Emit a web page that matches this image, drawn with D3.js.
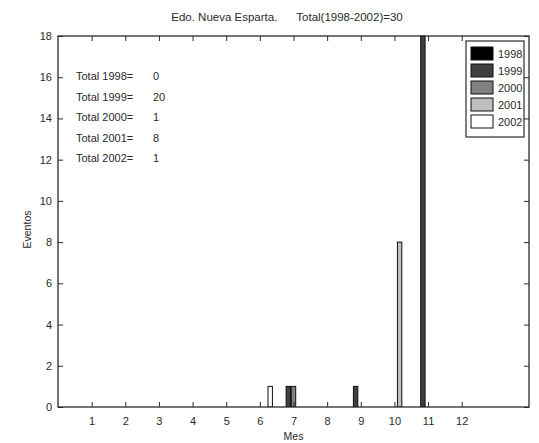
<!DOCTYPE html>
<html>
<head>
<meta charset="utf-8">
<script src="https://cdn.jsdelivr.net/npm/d3@7"></script>
<style>
  html, body { margin: 0; padding: 0; background: #fff; }
  svg { display: block; font-family: "Liberation Sans", Arial, sans-serif; }
</style>
</head>
<body>
<svg id="chart" width="539" height="443"></svg>
<script>
// Monthly event counts per year, Edo. Nueva Esparta
const months = [1, 2, 3, 4, 5, 6, 7, 8, 9, 10, 11, 12];
const years = ["1998", "1999", "2000", "2001", "2002"];
const v1998 = [0, 0, 0, 0, 0, 0, 0, 0, 0, 0, 0, 0];
const v1999 = [0, 0, 0, 0, 0, 0, 1, 0, 1, 0, 18, 0];
const v2000 = [0, 0, 0, 0, 0, 0, 1, 0, 0, 0, 0, 0];
const v2001 = [0, 0, 0, 0, 0, 0, 0, 0, 0, 8, 0, 0];
const v2002 = [0, 0, 0, 0, 0, 1, 0, 0, 0, 0, 0, 0];
const yTicks = [0, 2, 4, 6, 8, 10, 12, 14, 16, 18];
const yearColors = ["#000000", "#404040", "#808080", "#bfbfbf", "#ffffff"];

const series = [v1998, v1999, v2000, v2001, v2002];
const totals = series.map(s => d3.sum(s));
const grandTotal = d3.sum(totals);

const svg = d3.select("#chart");
const plotL = 58, plotR = 529, plotT = 36, plotB = 407;
const ink = "#2a2a2a";

const x = d3.scaleLinear().domain([0, 14]).range([plotL, plotR]);
const y = d3.scaleLinear().domain([0, 18]).range([plotB, plotT]);

// grouped bar geometry (5 bars per month)
const n = years.length;
const groupWidth = Math.min(0.8, n / (n + 1.5));
const barW = groupWidth / n * 0.85;
const offset = i => -groupWidth / 2 + (i + 0.5) * groupWidth / n;

svg.append("defs").append("clipPath").attr("id", "plotClip")
  .append("rect").attr("x", plotL).attr("y", plotT - 1)
  .attr("width", plotR - plotL).attr("height", plotB - plotT + 1);

const bars = svg.append("g").attr("clip-path", "url(#plotClip)");
series.forEach((vals, i) => {
  const pts = months.map((m, k) => ({ m, v: vals[k] })).filter(d => d.v > 0);
  bars.selectAll(null).data(pts).enter().append("rect")
    .attr("x", d => x(d.m + offset(i) - barW / 2))
    .attr("y", d => y(d.v))
    .attr("width", d => x(barW) - x(0))
    .attr("height", d => y(0) - y(d.v))
    .attr("fill", yearColors[i])
    .attr("stroke", "#111")
    .attr("stroke-width", 1);
});

// axes: ticks point inward, box on all four sides
const tickLen = 5;
const axisBottom = d3.axisBottom(x).tickValues(months).tickSize(-tickLen).tickPadding(10).tickFormat(d3.format("d"));
const axisTop = d3.axisTop(x).tickValues(months).tickSize(-tickLen).tickFormat("");
const axisLeft = d3.axisLeft(y).tickValues(yTicks).tickSize(-tickLen).tickPadding(6).tickFormat(d3.format("d"));
const axisRight = d3.axisRight(y).tickValues(yTicks).tickSize(-tickLen).tickFormat("");

function styleAxis(g) {
  g.select(".domain").remove();
  g.selectAll("line").attr("stroke", ink);
  g.selectAll("text").attr("fill", ink).attr("font-size", 11)
    .attr("font-family", "'Liberation Sans', Arial, sans-serif");
}
svg.append("g").attr("transform", `translate(0,${plotB})`).call(axisBottom).call(styleAxis);
svg.append("g").attr("transform", `translate(0,${plotT})`).call(axisTop).call(styleAxis);
svg.append("g").attr("transform", `translate(${plotL},0)`).call(axisLeft).call(styleAxis);
svg.append("g").attr("transform", `translate(${plotR},0)`).call(axisRight).call(styleAxis);

svg.append("rect").attr("x", plotL).attr("y", plotT)
  .attr("width", plotR - plotL).attr("height", plotB - plotT)
  .attr("fill", "none").attr("stroke", ink).attr("stroke-width", 1.3);

// title and axis labels
svg.append("text").attr("x", 287).attr("y", 21)
  .attr("text-anchor", "middle").attr("font-size", 11.5).attr("fill", ink)
  .attr("xml:space", "preserve")
  .text(`Edo. Nueva Esparta.      Total(1998-2002)=${grandTotal}`);
svg.append("text").attr("x", (plotL + plotR) / 2).attr("y", 440)
  .attr("text-anchor", "middle").attr("font-size", 10.5).attr("fill", ink).text("Mes");
svg.append("text").attr("transform", `translate(31,${(plotT + plotB) / 2 + 8}) rotate(-90)`)
  .attr("text-anchor", "middle").attr("font-size", 10.5).attr("fill", ink).text("Eventos");

// yearly totals
const totalsG = svg.append("g");
years.forEach((yr, i) => {
  const ty = 80 + i * 20.5;
  totalsG.append("text").attr("x", 76).attr("y", ty)
    .attr("font-size", 11).attr("fill", ink).text(`Total ${yr}=`);
  totalsG.append("text").attr("x", 153).attr("y", ty)
    .attr("font-size", 11).attr("fill", ink).text(totals[i]);
});

// legend
const lg = svg.append("g");
const lgX = 466, lgY = 41, lgW = 58, lgH = 96;
lg.append("rect").attr("x", lgX).attr("y", lgY).attr("width", lgW).attr("height", lgH)
  .attr("fill", "#fff").attr("stroke", ink).attr("stroke-width", 1.2);
years.forEach((yr, i) => {
  const ry = lgY + 6 + i * 17;
  lg.append("rect").attr("x", lgX + 5).attr("y", ry).attr("width", 22).attr("height", 13)
    .attr("fill", yearColors[i]).attr("stroke", "#111").attr("stroke-width", 1);
  lg.append("text").attr("x", lgX + 32).attr("y", ry + 11)
    .attr("font-size", 11).attr("fill", ink).text(yr);
});
</script>
</body>
</html>
